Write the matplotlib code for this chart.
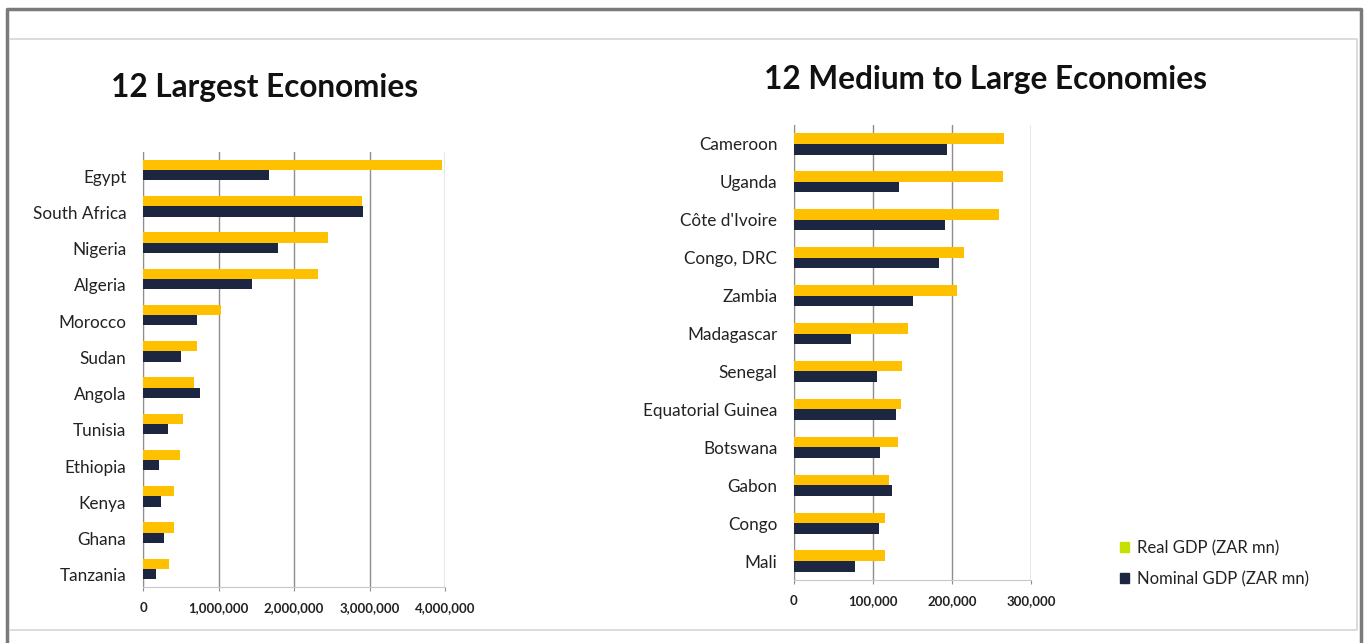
import matplotlib.pyplot as plt
import matplotlib.transforms as mt
from matplotlib.lines import Line2D
from matplotlib.patches import Patch
from matplotlib.ticker import FuncFormatter
import numpy as np

# GDP in ZAR millions
big_countries = ["Egypt", "South Africa", "Nigeria", "Algeria", "Morocco", "Sudan",
                 "Angola", "Tunisia", "Ethiopia", "Kenya", "Ghana", "Tanzania"]
big_real = [3960000, 2900000, 2450000, 2320000, 1030000, 720000,
            680000, 530000, 490000, 410000, 410000, 340000]
big_nominal = [1670000, 2910000, 1790000, 1440000, 720000, 500000,
               750000, 330000, 210000, 240000, 280000, 170000]

mid_countries = ["Cameroon", "Uganda", "Côte d'Ivoire", "Congo, DRC", "Zambia", "Madagascar",
                 "Senegal", "Equatorial Guinea", "Botswana", "Gabon", "Congo", "Mali"]
mid_real = [266000, 265000, 259000, 215000, 206000, 144000,
            137000, 136000, 132000, 120000, 115000, 115000]
mid_nominal = [194000, 133000, 191000, 183000, 151000, 72000,
               105000, 129000, 109000, 124000, 107000, 77000]

big_ticks = [0, 1000000, 2000000, 3000000, 4000000]
mid_ticks = [0, 100000, 200000, 300000]

YELLOW = "#FFC000"
NAVY = "#1C2640"
LIME = "#C6E000"
GRID = "#8E8E8E"

plt.rcParams['font.family'] = ['Lato', 'DejaVu Sans']

W, H = 1367, 643
fig = plt.figure(figsize=(W / 100, H / 100), dpi=100)


def px_axes(x0, y0, x1, y1):
    return fig.add_axes([x0 / W, 1 - y1 / H, (x1 - x0) / W, (y1 - y0) / H])


def fline(xs, ys, color, lw):
    fig.add_artist(Line2D([x / W for x in xs], [1 - y / H for y in ys],
                          color=color, lw=lw, transform=fig.transFigure))


# outer frame and inner panel
fline([7, 7, 1361, 1361], [700, 9, 9, 700], "#7A7A7A", 2.5)
fline([10, 1357, 1357, 10], [39, 39, 630, 630], "#D6D6D6", 1.2)


def draw(ax, countries, real, nominal, ticks, label_dy):
    y = np.arange(len(countries))
    h = 0.28
    ax.barh(y - h / 2, real, height=h, color=YELLOW, zorder=3)
    ax.barh(y + h / 2, nominal, height=h, color=NAVY, zorder=3)
    ax.set_ylim(len(countries) - 0.5, -0.5)
    ax.set_xlim(ticks[0], ticks[-1])
    ax.set_xticks(ticks)
    ax.xaxis.set_major_formatter(FuncFormatter(lambda v, p: f"{int(v):,}"))
    ax.set_yticks(y)
    ax.set_yticklabels(countries, fontsize=12.3, color="#222222")
    ax.tick_params(axis="y", length=0, pad=12)
    ax.tick_params(axis="x", length=3, color=GRID, pad=8, labelsize=9.5)
    for lbl in ax.get_xticklabels():
        lbl.set_fontweight("bold")
        lbl.set_color("#222222")
    ax.grid(axis="x", color=GRID, lw=1, zorder=0)
    for s in ["top", "right"]:
        ax.spines[s].set_visible(False)
    ax.spines["left"].set_color(GRID)
    ax.spines["bottom"].set_color("#C8C8C8")
    if label_dy:
        off = mt.ScaledTranslation(0, -label_dy / 100, fig.dpi_scale_trans)
        for lbl in ax.get_yticklabels():
            lbl.set_transform(lbl.get_transform() + off)


ax1 = px_axes(143, 152, 445, 587)
draw(ax1, big_countries, big_real, big_nominal, big_ticks, 6)

ax2 = px_axes(794, 125, 1031, 580)
draw(ax2, mid_countries, mid_real, mid_nominal, mid_ticks, 0)

fig.text(265 / W, 1 - 88 / H, "12 Largest Economies", ha="center", va="center",
         fontsize=22.7, fontweight="bold", color="#111111")
fig.text(985 / W, 1 - 80 / H, "12 Medium to Large Economies", ha="center", va="center",
         fontsize=22.7, fontweight="bold", color="#111111")

handles = [Patch(color=LIME, label="Real GDP (ZAR mn)"),
           Patch(color=NAVY, label="Nominal GDP (ZAR mn)")]
fig.legend(handles=handles, loc="upper left", bbox_to_anchor=(1105 / W, 1 - 525 / H),
           frameon=False, fontsize=12, handlelength=0.55, handleheight=0.55,
           handletextpad=0.45, labelspacing=0.9, labelcolor="#222222")

fig.savefig("out.png", dpi=100, facecolor="white")
